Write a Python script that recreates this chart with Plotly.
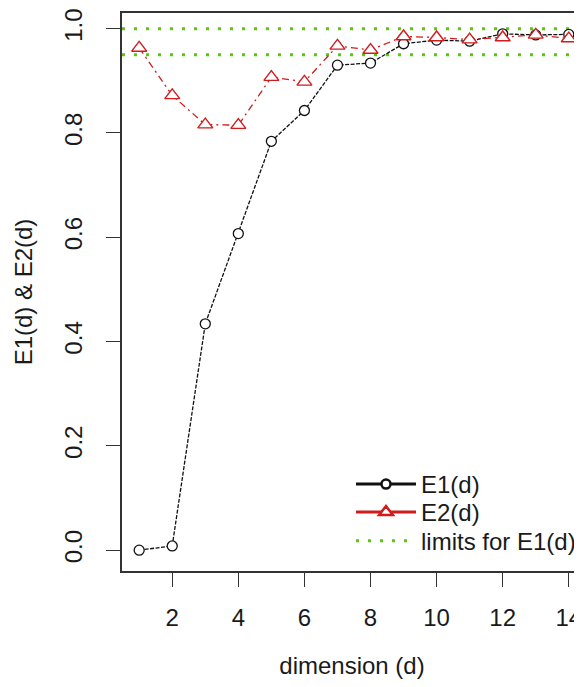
import plotly.graph_objects as go

dims = list(range(1, 15))
e1 = [0.000, 0.008, 0.434, 0.607, 0.784, 0.843, 0.930, 0.934, 0.971, 0.978, 0.976, 0.990, 0.988, 0.989]
e2 = [0.963, 0.872, 0.816, 0.815, 0.907, 0.898, 0.967, 0.959, 0.985, 0.983, 0.979, 0.983, 0.988, 0.981]
limits = [1.0, 0.95]
x_ticks = [2, 4, 6, 8, 10, 12, 14]
y_ticks = [0.0, 0.2, 0.4, 0.6, 0.8, 1.0]

BLACK = "#111111"
RED = "#d01c1c"
GREEN = "#5cc41a"
FONT = "Liberation Sans, Arial, sans-serif"

fig = go.Figure()

for lv in limits:
    fig.add_shape(type="line", xref="paper", x0=0, x1=1, yref="y", y0=lv, y1=lv,
                  line=dict(color=GREEN, width=3, dash="3px,9px"), layer="below")

fig.add_trace(go.Scatter(x=dims, y=e1, mode="lines+markers", showlegend=False,
                         line=dict(color=BLACK, width=1.3, dash="4px,1.5px"),
                         marker=dict(symbol="circle", size=10, color="white",
                                     line=dict(color=BLACK, width=1.3))))
fig.add_trace(go.Scatter(x=dims, y=e2, mode="lines+markers", showlegend=False,
                         line=dict(color=RED, width=1.3, dash="7px,4px,2px,4px"),
                         marker=dict(symbol="triangle-up", size=13, color="white",
                                     line=dict(color=RED, width=1.4))))

# legend entries, one legend each so the row spacing can be set
fig.add_trace(go.Scatter(x=[None], y=[None], mode="lines+markers", name="E1(d)",
                         legend="legend",
                         line=dict(color=BLACK, width=3),
                         marker=dict(symbol="circle", size=9, color="white",
                                     line=dict(color=BLACK, width=2.5))))
fig.add_trace(go.Scatter(x=[None], y=[None], mode="lines+markers", name="E2(d)",
                         legend="legend2",
                         line=dict(color=RED, width=3),
                         marker=dict(symbol="triangle-up", size=12, color="white",
                                     line=dict(color=RED, width=2.5))))
fig.add_trace(go.Scatter(x=[None], y=[None], mode="lines", name="limits for E1(d)",
                         legend="legend3",
                         line=dict(color=GREEN, width=3, dash="3px,9px")))

leg_common = dict(x=0.4978, xanchor="left", yanchor="top",
                  bgcolor="rgba(0,0,0,0)", borderwidth=0,
                  font=dict(size=24, family=FONT), itemwidth=60)

fig.update_layout(
    width=574, height=671,
    margin=dict(l=114, r=0, t=3, b=108),
    paper_bgcolor="white", plot_bgcolor="white",
    font=dict(family=FONT, size=24, color="#1a1a1a"),
    showlegend=True,
    legend=dict(y=0.1954, **leg_common),
    legend2=dict(y=0.1452, **leg_common),
    legend3=dict(y=0.0936, **leg_common),
    xaxis=dict(range=[0.48, 14.40], tickvals=x_ticks, ticktext=[str(v) for v in x_ticks],
               showgrid=False, zeroline=False, showline=True, mirror=True,
               linecolor="#333333", linewidth=1.6, ticks="outside", ticklen=14,
               tickwidth=1.4, tickcolor="#333333", ticklabelstandoff=10,
               ticklabeloverflow="allow",
               title=dict(text="dimension (d)", standoff=31,
                          font=dict(size=24, family=FONT))),
    yaxis=dict(range=[-0.040, 1.030], tickvals=y_ticks,
               ticktext=[f"{v:.1f}" for v in y_ticks], tickangle=-90,
               showgrid=False, zeroline=False, showline=True, mirror=False,
               linecolor="#333333", linewidth=1.6, ticks="outside", ticklen=14,
               tickwidth=1.4, tickcolor="#333333", ticklabelstandoff=15,
               ticklabeloverflow="allow",
               title=dict(text="E1(d) & E2(d)", standoff=20,
                          font=dict(size=24, family=FONT))),
)

fig.write_html("out.html")
